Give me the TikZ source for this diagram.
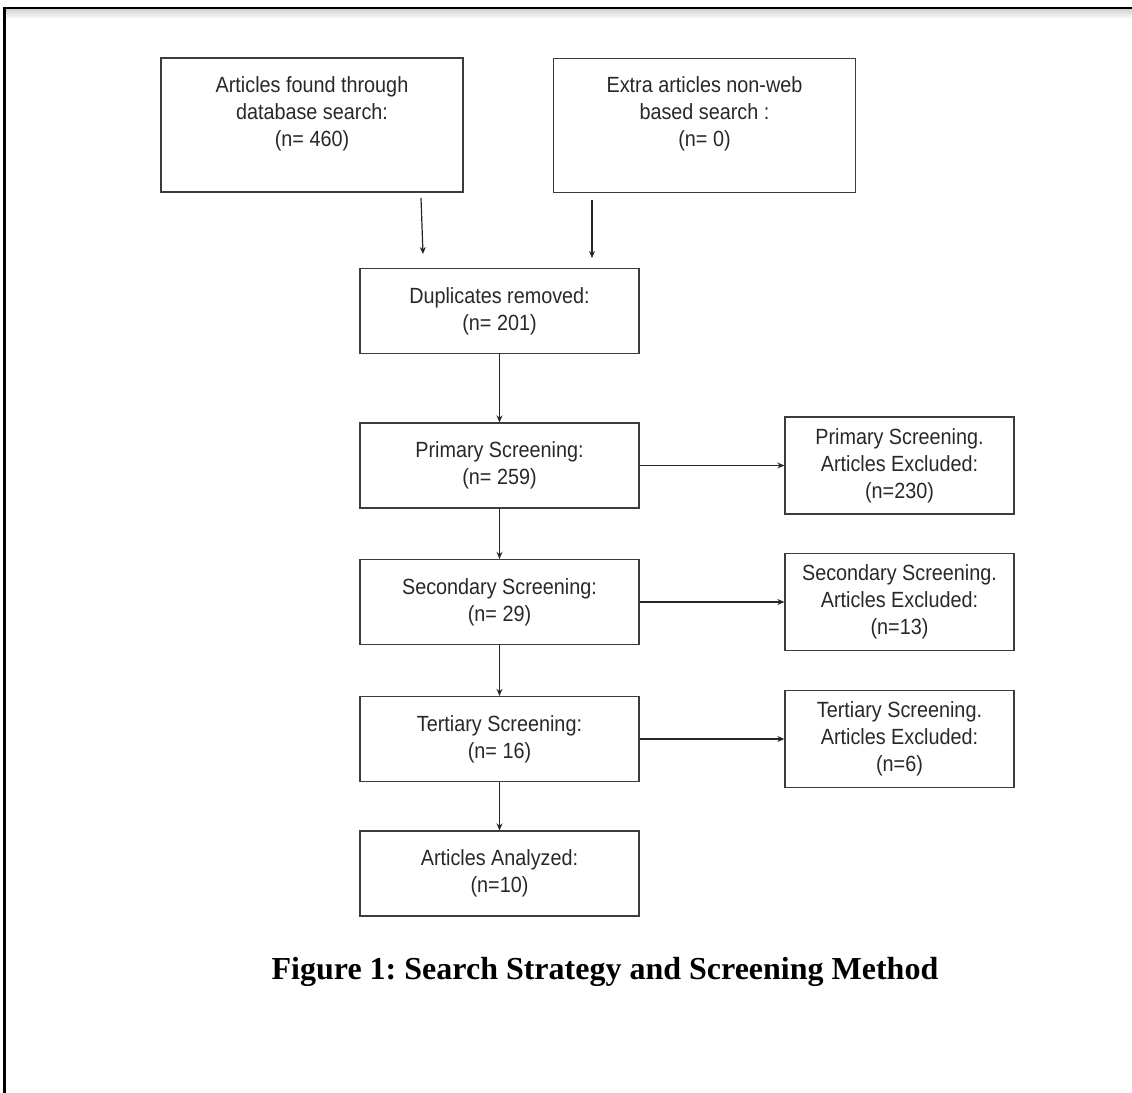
\documentclass[tikz,border=0pt]{standalone}
\usepackage{fontspec}
\setmainfont{Liberation Sans}[FakeStretch=0.9]
\newfontfamily\capfont{Liberation Serif}
\usetikzlibrary{arrows.meta}
\usetikzlibrary{positioning}
\frenchspacing
\definecolor{boxline}{RGB}{60,60,60}
\definecolor{boxtext}{RGB}{40,40,40}
\tikzset{stage/.style = {draw=boxline, line width=0.65pt, text=boxtext, align=center,
                         font=\fontsize{11}{13.5}\selectfont, inner sep=0pt,
                         minimum width=139.5pt, minimum height=42.5pt}}
\tikzset{excluded/.style = {stage, minimum width=114.5pt, minimum height=48.5pt}}
\tikzset{source/.style = {stage, minimum width=151pt, minimum height=67pt}}
\tikzset{flow/.style = {draw=black!85, line width=0.6pt, -{Stealth[length=3.5pt,width=3pt]}}}

\begin{document}
\begin{tikzpicture}[x=0.5pt, y=-0.5pt]
				\useasboundingbox (0,0) rectangle (1132,1093);
				\shade [top color=gray!35, bottom color=white] (6,9) rectangle (1132,19);
				\draw [line width=1.2pt] (4.5,1093) -- (4.5,8) -- (1132,8);
				\node [source] (db) at (312,125) {Articles found through\\database search:\\(n= 460)\\\mbox{}};
				\node [source] (extra) at (704.5,125.5) {Extra articles non-web\\based search :\\(n= 0)\\\mbox{}};
				\node [stage] (dup) at (499.5,311) {Duplicates removed:\\(n= 201)};
				\node [stage] (prim) at (499.5,465.5) {Primary Screening:\\(n= 259)};
				\node [stage] (sec) at (499.5,602) {Secondary Screening:\\(n= 29)};
				\node [stage] (tert) at (499.5,739) {Tertiary Screening:\\(n= 16)};
				\node [stage] (anal) at (499.5,873.5) {Articles Analyzed:\\(n=10)};
				\node [excluded] (xprim) at (899.5,465.5) {Primary Screening.\\Articles Excluded:\\(n=230)};
				\node [excluded] (xsec) at (899.5,602) {Secondary Screening.\\Articles Excluded:\\(n=13)};
				\node [excluded] (xtert) at (899.5,739) {Tertiary Screening.\\Articles Excluded:\\(n=6)};
				\node [font=\capfont\bfseries\fontsize{16}{19}\selectfont] (cap) at (605,972) {Figure 1: Search Strategy and Screening Method};
				\coordinate (db1) at (421,198);
				\coordinate (db2) at (423,254);
				\coordinate (ex1) at (592,200);
				\coordinate (ex2) at (592,258);
				\draw [flow] (db1) to (db2);
				\draw [flow] (ex1) to (ex2);
				\draw [flow] (dup) to (prim);
				\draw [flow] (prim) to (sec);
				\draw [flow] (sec) to (tert);
				\draw [flow] (tert) to (anal);
				\draw [flow] (prim) to (xprim);
				\draw [flow] (sec) to (xsec);
				\draw [flow] (tert) to (xtert);
		\end{tikzpicture}
\end{document}
